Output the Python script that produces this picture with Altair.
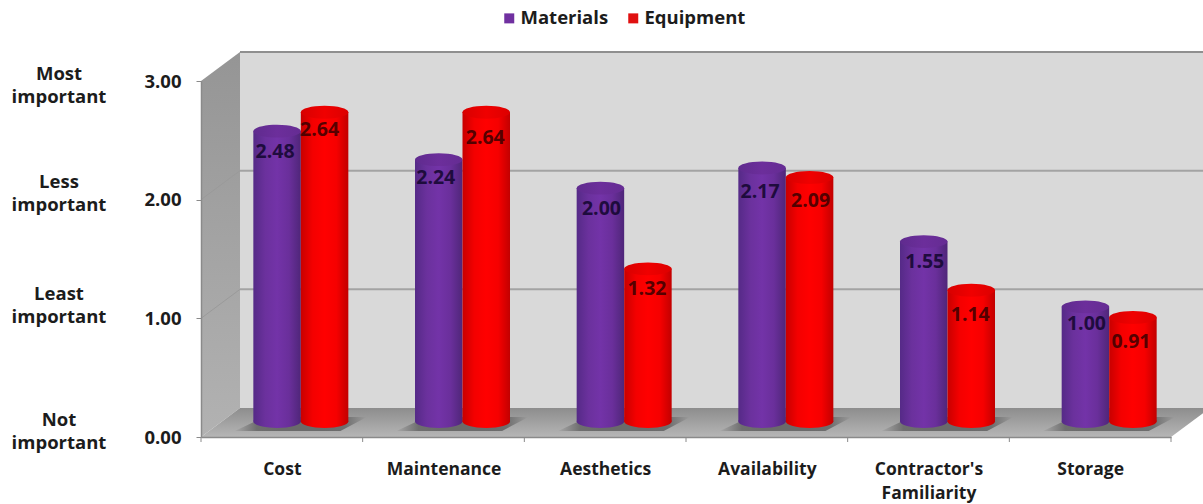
import json
import altair as alt
import pandas as pd

# Survey results
categories = ["Cost", "Maintenance", "Aesthetics", "Availability", "Contractor's Familiarity", "Storage"]
materials = [2.48, 2.24, 2.00, 2.17, 1.55, 1.00]
equipment = [2.64, 2.64, 1.32, 2.09, 1.14, 0.91]
rating_ticks = [0, 1, 2, 3]
rating_names = ["Not\nimportant", "Least\nimportant", "Less\nimportant", "Most\nimportant"]

# Hand placement of the value labels, in pixels
nudge_materials = [(-2, 0), (-3, -3), (1, 0), (-2, 3), (1, -1), (1, -4)]
nudge_equipment = [(-5, -3), (-1, 5), (-1, -1), (1, 3), (-1, 4), (-2, 3)]

FONT = "Open Sans"
TEXT_SIZE = 18.5
PX_X = 970 / 6      # pixels per category
PX_Y = 356 / 3      # pixels per rating point
DEPTH_X = 39 / PX_X  # offset of the back wall
DEPTH_Y = 29 / PX_Y
TOP_LIFT = 11.5 / PX_Y
BASE_LIFT = 15.5 / PX_Y
BAR_W = 47.5 / PX_X
SHIFT = 19 / PX_X
RIGHT_EDGE = 6.3


def gradient(colors, vertical=False):
    n = len(colors) - 1
    return alt.Gradient(
        gradient="linear",
        stops=[alt.GradientStop(offset=i / n, color=c) for i, c in enumerate(colors)],
        x1=0, y1=0, x2=0 if vertical else 1, y2=1 if vertical else 0,
    )


# Cylinder table
rows = []
for i, cat in enumerate(categories):
    for series, vals, side, nudges in (("Materials", materials, -1, nudge_materials),
                                       ("Equipment", equipment, 1, nudge_equipment)):
        c = i + 0.5 + SHIFT + side * BAR_W / 2
        top = vals[i] + TOP_LIFT
        rows.append({
            "series": series, "value": vals[i], "label": f"{vals[i]:.2f}",
            "cx": c, "x0": c - BAR_W / 2, "x1": c + BAR_W / 2,
            "top": top, "base": BASE_LIFT,
            "label_x": c + nudges[i][0] / PX_X, "label_y": top - nudges[i][1] / PX_Y,
        })
bars = pd.DataFrame(rows)
joints = pd.DataFrame({"x": [i + 0.5 + SHIFT for i in range(len(categories))], "y": 13 / PX_Y})

x_scale = alt.Scale(domain=[0, 6], nice=False, zero=False)
y_scale = alt.Scale(domain=[0, 3], nice=False, zero=False)
X = lambda f: alt.X(f, type="quantitative", scale=x_scale, title=None)
Y = lambda f: alt.Y(f, type="quantitative", scale=y_scale, title=None)

# Category labels on the front edge, rating scale on the left
label_expr = "[" + ",".join(
    json.dumps(c.split(" ") if " " in c else c) for c in categories
) + "][floor(datum.value)]"

axes = alt.Chart(pd.DataFrame({"x": [0], "y": [0]})).mark_point(opacity=0).encode(
    x=alt.X("x:Q", scale=x_scale, title=None, axis=alt.Axis(
        values=[i + 0.5 for i in range(6)], labelExpr=label_expr, tickSize=0, grid=False,
        domainColor="#8a8a8a", domainWidth=1.5, labelFont=FONT, labelFontSize=TEXT_SIZE - 1,
        labelFontWeight=700, labelColor="#1c1c1c", labelPadding=23, labelLineHeight=24,
        labelAngle=0, labelOverlap=False, zindex=1)),
    y=alt.Y("y:Q", scale=y_scale, title=None, axis=alt.Axis(
        values=rating_ticks, format=".2f", tickSize=5, tickColor="#8a8a8a", grid=False,
        domainColor="#8a8a8a", domainWidth=1.5, labelFont=FONT, labelFontSize=TEXT_SIZE,
        labelFontWeight=700, labelColor="#1c1c1c", labelPadding=15, zindex=1)),
)

# Back wall with its gridlines
wall = alt.Chart(pd.DataFrame({"x": [DEPTH_X], "x2": [RIGHT_EDGE], "y": [DEPTH_Y], "y2": [3 + DEPTH_Y]})).mark_rect(
    color="#d9d9d9").encode(x=X("x"), x2="x2", y=Y("y"), y2="y2")
top_edge = alt.Chart(pd.DataFrame({"x": [DEPTH_X], "x2": [RIGHT_EDGE], "y": [3 + DEPTH_Y]})).mark_rule(
    color="#8f8f8f", strokeWidth=2).encode(x=X("x"), x2="x2", y=Y("y"))
grid = alt.Chart(pd.DataFrame({"y": [1 + DEPTH_Y, 2 + DEPTH_Y], "x": DEPTH_X, "x2": RIGHT_EDGE})).mark_rule(
    color="#a3a3a3", strokeWidth=2).encode(x=X("x"), x2="x2", y=Y("y"))

# Side wall and floor
side = alt.Chart(pd.DataFrame({"x": [0, DEPTH_X], "y": [3, 3 + DEPTH_Y], "y2": [0, DEPTH_Y]})).mark_area(
    color=gradient(["#959595", "#b2b2b2"], vertical=True), orient="vertical"
).encode(x=X("x"), y=Y("y"), y2="y2")
side_grid = alt.Chart(pd.DataFrame({
    "x": [0, DEPTH_X, 0, DEPTH_X], "y": [1, 1 + DEPTH_Y, 2, 2 + DEPTH_Y], "k": [1, 1, 2, 2]
})).mark_line(color="#9a9a9a", strokeWidth=1).encode(x=X("x"), y=Y("y"), detail="k:N")
floor = alt.Chart(pd.DataFrame({
    "x": [0, DEPTH_X, 6, 6 + DEPTH_X],
    "y": [0, DEPTH_Y, DEPTH_Y, DEPTH_Y],
    "y2": [0, 0, 0, DEPTH_Y],
})).mark_area(color=gradient(["#8d8d8d", "#b6b6b6"], vertical=True), orient="vertical").encode(
    x=X("x"), y=Y("y"), y2="y2")

# Tick marks below the front edge
ticks = alt.Chart(pd.DataFrame({"x": list(range(7)), "y": 0.0, "y2": -5 / PX_Y})).mark_rule(
    color="#8a8a8a", strokeWidth=1).encode(x=X("x"), y=Y("y"), y2="y2")

# Cast shadows on the floor
shadow = alt.Chart(joints).mark_point(
    shape="M-1,.106L.6,.106L1,-.106L-.55,-.106Z", size=132 ** 2, filled=True, opacity=1,
    color=gradient(["#a8a8a8", "#6e6e6e", "#6a6a6a", "#6a6a6a", "#6a6a6a", "#6e6e6e", "#9c9c9c"]),
).encode(x=X("x"), y=Y("y"))

ELLIPSE = "M-1,0A1,.27,0,1,0,1,0A1,.27,0,1,0,-1,0Z"


def cylinder(name, body_colors, cap_colors):
    d = alt.Chart(bars[bars.series == name])
    body = d.mark_bar(color=gradient(body_colors)).encode(x=X("x0"), x2="x1", y=Y("top"), y2="base")
    foot = d.mark_point(shape=ELLIPSE, size=47.5 ** 2, filled=True, opacity=1, color=gradient(body_colors)).encode(
        x=X("cx"), y=Y("base"))
    cap = d.mark_point(shape=ELLIPSE, size=47.5 ** 2, filled=True, opacity=1, color=gradient(cap_colors)).encode(
        x=X("cx"), y=Y("top"))
    return body + foot + cap


purple = cylinder("Materials",
                  ["#552a87", "#6b319d", "#7333a8", "#6a2f9b", "#4f2679"],
                  ["#5f2b8e", "#6c2e9b", "#652c93"])
red = cylinder("Equipment",
               ["#c80000", "#f40000", "#ff0000", "#f60000", "#c20000"],
               ["#d80000", "#f00000", "#dc0000"])

# Value labels sit just below each cap
values = alt.Chart(bars).mark_text(font=FONT, fontSize=19.5, fontWeight=700, dy=21, opacity=0.85).encode(
    x=X("label_x"), y=Y("label_y"), text="label:N", color=alt.Color("series:N", legend=None, scale=alt.Scale(
        domain=["Materials", "Equipment"], range=["#12062e", "#3a0000"])))

# Importance wording left of the scale
names = pd.DataFrame({"pos": [0.147, 1.201, 2.147, 3.063], "name": rating_names})
wording = alt.Chart(names).mark_text(
    font=FONT, fontSize=TEXT_SIZE, fontWeight=700, color="#1c1c1c", lineBreak="\n", lineHeight=23, align="center",
    baseline="middle",
).encode(x=alt.value(-142), y=Y("pos"), text="name:N")

# Legend
key = alt.Chart(bars).mark_point(size=0, filled=True, opacity=0).encode(
    x=X("cx"), y=Y("top"),
    fill=alt.Fill("series:N", scale=alt.Scale(domain=["Materials", "Equipment"], range=["#7030a0", "#e01010"]),
                  legend=alt.Legend(title=None, orient="none", direction="horizontal", legendX=299, legendY=-72,
                                    symbolType="square", symbolSize=100, symbolOpacity=1,
                                    labelFont=FONT, labelFontSize=TEXT_SIZE, labelFontWeight=700,
                                    labelColor="#1c1c1c", columnPadding=15, labelOffset=2)),
)

chart = alt.layer(
    axes, wall, top_edge, grid, side, side_grid, floor, ticks, shadow, purple, red, values, wording, key
).resolve_scale(color="independent", fill="independent").properties(
    width=970, height=356,
    padding={"left": 201, "top": 81, "right": 32, "bottom": 67},
    autosize=alt.AutoSizeParams(type="none"),
    background="white",
).configure_view(stroke=None)

chart.save("out.html", embed_options={"renderer": "svg", "actions": False})
